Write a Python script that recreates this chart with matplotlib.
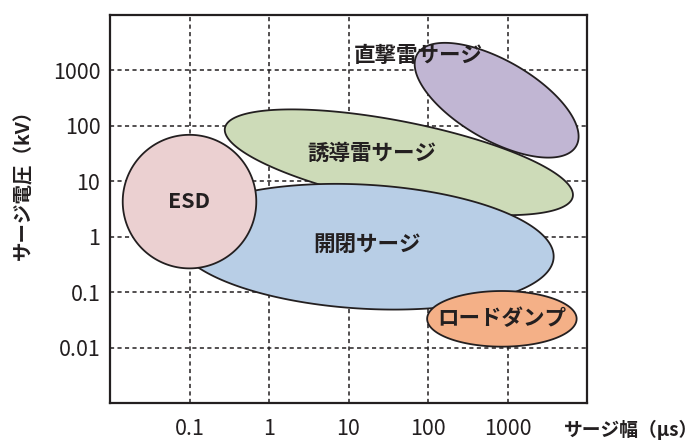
import numpy as np
import matplotlib
matplotlib.use("Agg")
import matplotlib.pyplot as plt
from matplotlib.patches import Polygon

plt.rcParams['font.family'] = ['Noto Sans CJK JP', 'DejaVu Sans']

# surge regions: centre (width in us, voltage in kV), semi-axes in decades, tilt in degrees
names = ["誘導雷サージ", "開閉サージ", "ESD", "直撃雷サージ", "ロードダンプ"]
center_us = [43, 16, 0.1, 730, 850]
center_kv = [22, 0.66, 4.3, 290, 0.033]
semi_major = [2.23, 2.38, 0.84, 1.155, 0.94]
semi_minor = [0.515, 0.78, 0.84, 0.50, 0.35]
tilt_deg = [-11.2, -3.3, 0, -30, 0]
colors = ["#cddbb8", "#b8cee6", "#ebd0d1", "#c1b6d3", "#f4b087"]
# label positions (us, kV)
label_us = [19.8, 17, 0.1, 75, 850]
label_kv = [32, 0.72, 4.3, 1860, 0.033]

xticks = [0.1, 1, 10, 100, 1000]
xticklabels = ["0.1", "1", "10", "100", "1000"]
yticks = [0.01, 0.1, 1, 10, 100, 1000]
yticklabels = ["0.01", "0.1", "1", "10", "100", "1000"]

fig = plt.figure(figsize=(6.99, 4.41), dpi=100)
ax = fig.add_axes([110/699, 38/441, 477/699, 388/441])
ax.set_xscale('log')
ax.set_yscale('log')
ax.set_xlim(0.01, 1e4)
ax.set_ylim(1e-3, 1e4)

# one y decade is shorter than one x decade on screen
ydec_per_xdec = (477/6) / (388/7)

t = np.linspace(0, 2*np.pi, 400)
for i in range(len(names)):
    th = np.radians(tilt_deg[i])
    u = semi_major[i]*np.cos(t)
    v = semi_minor[i]*np.sin(t)
    du = u*np.cos(th) - v*np.sin(th)
    dv = (u*np.sin(th) + v*np.cos(th))*ydec_per_xdec
    xs = center_us[i]*10**du
    ys = center_kv[i]*10**dv
    ax.add_patch(Polygon(np.column_stack([xs, ys]), closed=True,
                         facecolor=colors[i], edgecolor='#231f20', lw=1.3, zorder=2))
    ax.text(label_us[i], label_kv[i], names[i], ha='center', va='center',
            fontsize=15.5, fontweight='bold', color='#231f20', zorder=5)

ax.set_xticks(xticks)
ax.set_xticklabels(xticklabels)
ax.set_yticks(yticks)
ax.set_yticklabels(yticklabels)
ax.minorticks_off()
ax.tick_params(length=0, labelsize=15.5, colors='#231f20')
ax.tick_params(axis='x', pad=11)
ax.tick_params(axis='y', pad=7)
ax.set_axisbelow(True)
ax.grid(True, color='#231f20', lw=1.1, linestyle=(0, (2.7, 2.2)))
for s in ax.spines.values():
    s.set_linewidth(1.6)
    s.set_color('#231f20')

ax.set_ylabel("サージ電圧（kV）", fontsize=14, fontweight='bold', color='#231f20')
ax.yaxis.set_label_coords(-0.161, 0.575)
ax.set_xlabel("サージ幅（µs）", fontsize=13.5, fontweight='bold', color='#231f20',
              ha='left', va='center')
ax.xaxis.set_label_coords(0.952, -0.07)

fig.savefig("out.png", dpi=100)
